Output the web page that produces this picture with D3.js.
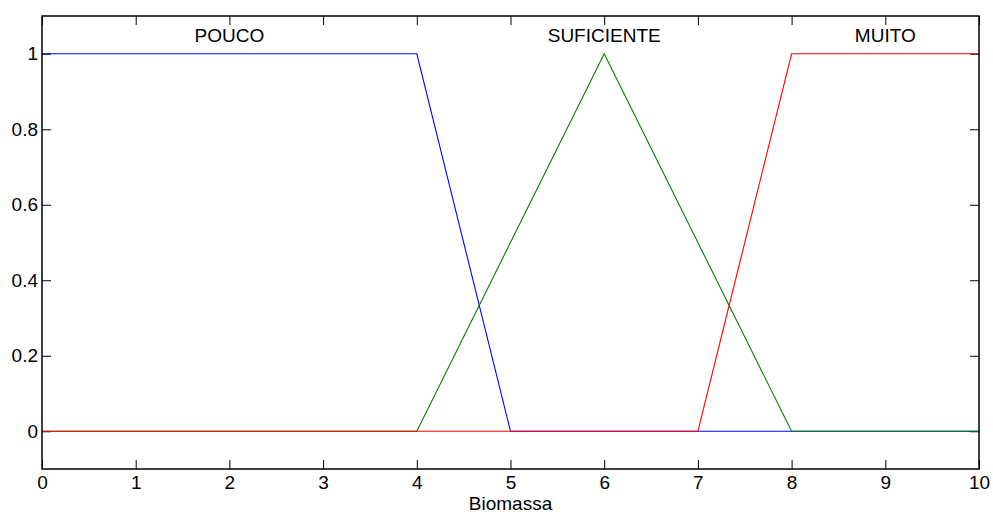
<!DOCTYPE html>
<html>
<head>
<meta charset="utf-8">
<script src="https://cdn.jsdelivr.net/npm/d3@7"></script>
<style>
html,body{margin:0;padding:0;background:#fff;}
svg text{font-family:"Liberation Sans",Arial,sans-serif;font-size:19px;fill:#000;}
</style>
</head>
<body>
<svg id="chart" width="993" height="514"></svg>
<script>
// Data
const xTicks = [0,1,2,3,4,5,6,7,8,9,10];
const yTicks = [0,0.2,0.4,0.6,0.8,1];
const xLabel = "Biomassa";
const mfNames = ["POUCO","SUFICIENTE","MUITO"];
const mfColors = ["#0000ff","#008000","#ff0000"];
const pocoX = [0,4,5,10];
const pocoY = [1,1,0,0];
const sufX = [0,4,6,8,10];
const sufY = [0,0,1,0,0];
const muitoX = [0,7,8,10];
const muitoY = [0,0,1,1];
const labelX = [2,6,9];

const series = [
  pocoX.map((x,i)=>[x,pocoY[i]]),
  sufX.map((x,i)=>[x,sufY[i]]),
  muitoX.map((x,i)=>[x,muitoY[i]])
];

const svg = d3.select("#chart");
const L=42, R=979, T=16, B=469;
const x = d3.scaleLinear().domain([0,10]).range([L,R]);
const y = d3.scaleLinear().domain([-0.1,1.1]).range([B,T]);
const tl = 9;

// axes
const gB = svg.append("g").attr("transform",`translate(0,${B})`)
  .call(d3.axisBottom(x).tickValues(xTicks).tickFormat(d3.format("d")).tickSizeInner(-tl).tickSizeOuter(0).tickPadding(7));
const gT = svg.append("g").attr("transform",`translate(0,${T})`)
  .call(d3.axisTop(x).tickValues(xTicks).tickFormat("").tickSizeInner(-tl).tickSizeOuter(0));
const gL = svg.append("g").attr("transform",`translate(${L},0)`)
  .call(d3.axisLeft(y).tickValues(yTicks).tickFormat(d=>d3.format("")(+d.toFixed(1))).tickSizeInner(-tl).tickSizeOuter(0).tickPadding(4));
const gR = svg.append("g").attr("transform",`translate(${R},0)`)
  .call(d3.axisRight(y).tickValues(yTicks).tickFormat("").tickSizeInner(-tl).tickSizeOuter(0));
[gB,gT,gL,gR].forEach(g=>{
  g.select(".domain").remove();
  g.selectAll(".tick line").attr("stroke","#000").attr("stroke-width",1);
  g.selectAll("text").attr("font-family","Liberation Sans, Arial, sans-serif").attr("font-size",19).attr("fill","#000");
});
gB.selectAll("text").attr("dy","0.71em");

// lines
const line = d3.line().x(d=>x(d[0])).y(d=>y(d[1]));
svg.append("g").selectAll("path").data(series).join("path")
  .attr("d",line).attr("fill","none")
  .attr("stroke",(d,i)=>mfColors[i]).attr("stroke-width",1.1);

// box
svg.append("rect").attr("x",L).attr("y",T).attr("width",R-L).attr("height",B-T)
  .attr("fill","none").attr("stroke","#000").attr("stroke-width",1.5);

// mf labels
svg.append("g").selectAll("text").data(mfNames).join("text")
  .attr("x",(d,i)=>x(labelX[i])).attr("y",y(1.1)).attr("dy",26)
  .attr("text-anchor","middle").text(d=>d);

// x label
svg.append("text").attr("x",(L+R)/2).attr("y",B+41).attr("text-anchor","middle").text(xLabel);
</script>
</body>
</html>
